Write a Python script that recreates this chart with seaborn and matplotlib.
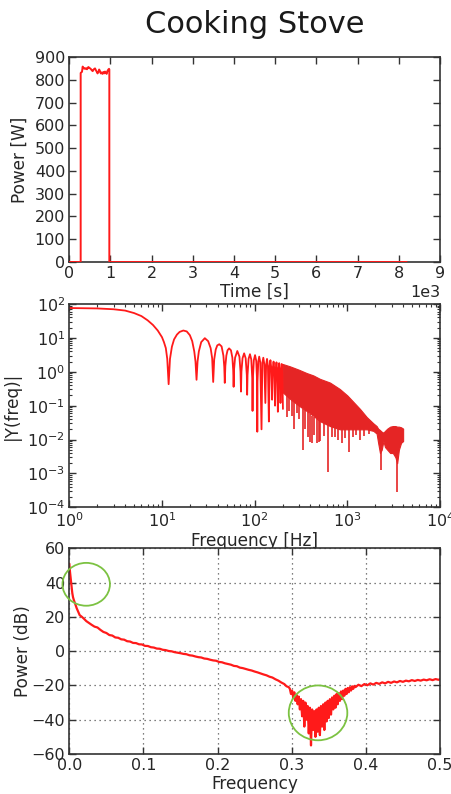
import numpy as np
import pandas as pd
import matplotlib
matplotlib.use("Agg")
import matplotlib.pyplot as plt
import seaborn as sns
from matplotlib.patches import Ellipse
from matplotlib.ticker import LogLocator, NullFormatter, MultipleLocator

# ---------------- data ----------------
# Panel 1: power vs time
time_s = [0, 276, 276, 308, 325, 340, 357, 380, 406, 430, 462, 490, 519, 545, 567, 595,
          624, 645, 664, 685, 705, 725, 745, 765, 786, 805, 826, 845, 867, 890, 907, 925,
          948, 965, 972, 972, 8190]
power_w = [0, 0, 830, 835, 858, 850, 852, 848, 851, 846, 856, 852, 848, 842, 838, 846,
           850, 842, 836, 828, 833, 845, 838, 828, 832, 826, 834, 828, 836, 830, 826, 838,
           845, 848, 845, 0, 0]

# Panel 2: spectrum magnitude, resolved lobes
freq_lobe = [1, 2, 3, 4, 5, 6, 7, 8, 9, 10, 10.5, 11, 11.4, 11.8, 12.2, 12.8, 13.5, 14.5, 15.5,
             17, 18.5, 20, 21.2, 22.3, 23, 23.6, 24.2, 25, 26.5, 29, 31.5, 33.5, 34.8, 35.7,
             36.6, 38, 39.5, 41.5, 44, 46, 47, 47.6, 48.3, 49.5, 51, 53, 55.5, 57.5, 58.7, 59.3,
             60, 61.5, 65, 68.5, 70.4, 71.2, 72, 74, 77, 80, 82.3, 83, 83.8, 86, 89, 92, 94.3,
             94.9, 95.6, 98, 101, 104, 106.3, 106.8, 107.3, 109.5, 112, 115, 118.6, 121, 124,
             127, 130.5, 133, 136, 139, 142.4, 145, 148, 151, 154.3, 157, 160, 163, 166, 169,
             172, 175, 178, 181, 184, 187, 190, 193, 196, 199, 202]
mag_lobe = [76, 74, 70, 64, 54, 44, 33, 24, 16.5, 10.5, 7.5, 5, 2.4, 0.43, 2.4, 5.5, 9, 12.5, 15,
            16.5, 15.5, 12, 8, 4, 2, 0.58, 2, 4, 7.5, 9.8, 8, 5, 2.5, 0.5,
            2.3, 4.5, 6, 6.5, 5.6, 3, 1.4, 0.47, 1.5, 3, 4.3, 4.9, 4.3, 2.6, 1.1, 0.36,
            1.2, 2.6, 4.1, 2.8, 1.0, 0.26, 1.0, 2.5, 3.5, 2.5, 0.8, 0.21, 0.8, 2.4, 3.3, 2.3, 0.6,
            0.07, 0.6, 2.2, 3.1, 2.1, 0.5, 0.017, 0.5, 2.0, 2.8, 1.9, 0.02, 1.8, 2.6,
            1.7, 0.12, 1.6, 2.4, 1.5, 0.034, 1.4, 2.2, 1.3, 0.15, 1.3, 2.0, 1.2, 0.1, 1.2,
            1.9, 1.1, 0.066, 1.1, 1.8, 1.0, 0.12, 1.0, 1.7, 0.9, 0.08]

# Panel 2: dense high-frequency band (upper / lower edge)
band_freq = [200, 240, 300, 363, 430, 505, 650, 830, 1000, 1080, 1370, 1620, 1910, 2070, 2150,
             2250, 2350, 2450, 2550, 2700, 2900, 3100, 3300, 3450, 3600, 3800, 4000]
band_top = [1.7, 1.45, 1.15, 0.92, 0.78, 0.62, 0.48, 0.31, 0.2, 0.16, 0.08, 0.046, 0.03, 0.025,
            0.021, 0.019, 0.017, 0.016, 0.018, 0.021, 0.024, 0.025, 0.025, 0.024, 0.024, 0.023, 0.021]
band_bottom = [0.25, 0.16, 0.1, 0.07, 0.05, 0.035, 0.025, 0.02, 0.02, 0.02, 0.02, 0.02, 0.018,
               0.015, 0.008, 0.004, 0.005, 0.009, 0.006, 0.005, 0.004, 0.004, 0.003, 0.002,
               0.005, 0.008, 0.009]

# Panel 2: deep notches inside the band
notch_freq = [221, 233, 252, 263, 285, 300, 336, 350, 372, 396, 414, 440, 465, 490, 510, 560,
              620, 680, 740, 800, 870, 950, 1050, 1150, 1250, 1380, 1500, 1700, 2300, 3450]
notch_low = [0.045, 0.07, 0.05, 0.021, 0.06, 0.04, 0.0049, 0.02, 0.012, 0.0086, 0.0078, 0.014,
             0.0078, 0.0086, 0.009, 0.013, 0.0011, 0.012, 0.012, 0.01, 0.0078, 0.011, 0.0044,
             0.012, 0.014, 0.01, 0.013, 0.015, 0.0013, 0.00029]
notch_high = [0.2, 0.18, 0.15, 0.13, 0.11, 0.1, 0.08, 0.075, 0.065, 0.055, 0.05, 0.045, 0.04,
              0.037, 0.035, 0.03, 0.027, 0.025, 0.023, 0.021, 0.02, 0.02, 0.02, 0.02, 0.02, 0.02,
              0.02, 0.02, 0.005, 0.003]

# Panel 3: power spectral density in dB
freq_norm = [0.000, 0.001, 0.002, 0.003, 0.004, 0.005, 0.006, 0.008, 0.010, 0.012, 0.014, 0.017,
             0.020, 0.023, 0.026, 0.030, 0.034, 0.038, 0.042, 0.046, 0.050, 0.054, 0.058, 0.062,
             0.066, 0.070, 0.074, 0.078, 0.082, 0.086, 0.090, 0.094, 0.098, 0.102, 0.106, 0.110,
             0.114, 0.118, 0.122, 0.126, 0.130, 0.134, 0.138, 0.142, 0.146, 0.150, 0.154, 0.158,
             0.162, 0.166, 0.170, 0.174, 0.178, 0.182, 0.186, 0.190, 0.194, 0.198, 0.202, 0.206,
             0.210, 0.214, 0.218, 0.222, 0.226, 0.230, 0.234, 0.238, 0.242, 0.246, 0.250, 0.254,
             0.258, 0.262, 0.266, 0.270, 0.274, 0.278, 0.282, 0.286, 0.290, 0.293, 0.296,
             0.2975, 0.299, 0.3005, 0.302, 0.3035, 0.305, 0.3065, 0.308, 0.3095, 0.311, 0.3125,
             0.314, 0.3155, 0.317, 0.3185, 0.320, 0.3215, 0.323, 0.3245, 0.326, 0.3275, 0.329,
             0.3305, 0.332, 0.3335, 0.335, 0.3365, 0.338, 0.3395, 0.341, 0.3425, 0.344, 0.3455,
             0.347, 0.3485, 0.350, 0.3515, 0.353, 0.3545, 0.356, 0.3575, 0.359, 0.3605, 0.362,
             0.3635, 0.365, 0.3665, 0.368, 0.3695, 0.371, 0.3725, 0.374, 0.3755, 0.377, 0.3785,
             0.380, 0.3815, 0.383, 0.3845, 0.386, 0.390, 0.394, 0.398, 0.402, 0.406, 0.410,
             0.414, 0.418, 0.422, 0.426, 0.430, 0.434, 0.438, 0.442, 0.446, 0.450, 0.454, 0.458,
             0.462, 0.466, 0.470, 0.474, 0.478, 0.482, 0.486, 0.490, 0.494, 0.498, 0.500]
power_db = [51, 46, 42, 37.5, 34, 31.5, 30, 27.5, 25, 23, 21, 20,
            18.8, 17.5, 16.6, 15.4, 14.3, 13.8, 12.4, 11.2, 10.6, 9.4, 9.1, 8.0,
            7.8, 6.9, 6.7, 5.8, 5.6, 4.8, 4.7, 4.0, 3.9, 3.1, 3.0, 2.3,
            2.1, 1.5, 1.4, 0.8, 0.6, 0.1, -0.1, -0.6, -0.9, -1.2, -1.6, -1.8,
            -2.4, -2.6, -3.1, -3.5, -3.7, -4.3, -4.5, -5.0, -5.4, -5.6, -6.3, -6.5,
            -7.1, -7.5, -7.9, -8.6, -8.8, -9.6, -9.9, -10.4, -10.9, -11.3, -11.9, -12.4,
            -13.0, -13.6, -14.1, -14.9, -15.4, -16.4, -17.2, -18.3, -19.2, -20.5, -21.0,
            -22, -25, -23, -27, -24, -29, -25.5, -31, -26.5, -34, -28,
            -38, -29, -44, -30, -40, -32, -48, -33, -55, -34, -46,
            -35, -50, -34, -47, -33, -49, -32, -44, -31, -46, -30,
            -41, -29, -39, -28, -37, -27, -34, -26, -33, -25, -31,
            -24.5, -29, -23.5, -28, -23, -26, -22, -25, -21.5, -24, -21,
            -23, -20.5, -22, -20.3, -21, -19.6, -20.4, -19.2, -19.9, -18.8, -19.5,
            -18.5, -19.1, -18.2, -18.8, -17.9, -18.5, -17.7, -18.2, -17.4, -17.9, -17.2, -17.6,
            -16.9, -17.4, -16.8, -17.2, -16.6, -17.0, -16.4, -16.9, -16.3, -16.7, -16.4]

# Panel 3: highlighted regions (center x, center y, width, height)
circle_x = [0.0228, 0.3355]
circle_y = [39, -36]
circle_w = [0.064, 0.079]
circle_h = [25, 32]

# ---------------- style ----------------
sns.set_style("ticks", {"xtick.direction": "in", "ytick.direction": "in",
                        "axes.edgecolor": "#333333"})
plt.rcParams["font.family"] = ["DejaVu Sans"]
plt.rcParams["axes.linewidth"] = 1.2

TEXT = "#262626"
TICK_FS = 11.5
LABEL_FS = 12.2
RED = "#ff1a1a"

fig = plt.figure(figsize=(4.52, 7.94), dpi=100)
W, H = 452.0, 794.0
left, width = 69.3 / W, 370.7 / W
ax1 = fig.add_axes([left, 1 - 262 / H, width, 205 / H])
ax2 = fig.add_axes([left, 1 - 507.3 / H, width, 203.3 / H])
ax3 = fig.add_axes([left, 1 - 754 / H, width, 205.7 / H])


def style_axis(ax):
    ax.tick_params(which="both", direction="in", top=True, right=True,
                   labelsize=TICK_FS, colors="#333333", labelcolor=TEXT, pad=3)
    ax.tick_params(which="major", length=5, width=1)
    ax.tick_params(which="minor", length=2.5, width=0.8)
    for s in ax.spines.values():
        s.set_color("#333333")
        s.set_linewidth(1.2)
        s.set_visible(True)


# Panel 1
df1 = pd.DataFrame({"t": time_s, "p": power_w})
sns.lineplot(data=df1, x="t", y="p", ax=ax1, color=RED, lw=1.4,
             estimator=None, sort=False, zorder=3)
ax1.set_xlim(0, 9000)
ax1.set_ylim(0, 900)
ax1.xaxis.set_major_locator(MultipleLocator(1000))
ax1.yaxis.set_major_locator(MultipleLocator(100))
ax1.ticklabel_format(style="sci", axis="x", scilimits=(3, 3))
ax1.xaxis.get_offset_text().set_fontsize(TICK_FS)
ax1.xaxis.get_offset_text().set_color(TEXT)
ax1.set_xlabel("Time [s]", fontsize=LABEL_FS, color=TEXT, labelpad=1)
ax1.set_ylabel("Power [W]", fontsize=LABEL_FS, color=TEXT, labelpad=4)
ax1.set_title("Cooking Stove", fontsize=22, color="#1a1a1a", pad=17)
style_axis(ax1)

# Panel 2
df2 = pd.DataFrame({"f": freq_lobe, "a": mag_lobe})
sns.lineplot(data=df2, x="f", y="a", ax=ax2, color=RED, lw=1.3,
             estimator=None, sort=False)
ax2.fill_between(band_freq, band_bottom, band_top, color="#e52525", lw=0.8,
                 edgecolor="#e52525")
ax2.vlines(notch_freq, notch_low, notch_high, color="#e52525", lw=1.2)
ax2.set_xscale("log")
ax2.set_yscale("log")
ax2.set_xlim(1, 1e4)
ax2.set_ylim(1e-4, 1e2)
ax2.xaxis.set_major_locator(LogLocator(base=10, numticks=10))
ax2.yaxis.set_major_locator(LogLocator(base=10, numticks=10))
ax2.xaxis.set_minor_locator(LogLocator(base=10, subs=np.arange(2, 10), numticks=20))
ax2.yaxis.set_minor_locator(LogLocator(base=10, subs=np.arange(2, 10), numticks=20))
ax2.xaxis.set_minor_formatter(NullFormatter())
ax2.yaxis.set_minor_formatter(NullFormatter())
ax2.set_xlabel("Frequency [Hz]", fontsize=LABEL_FS, color=TEXT, labelpad=1)
ax2.set_ylabel("|Y(freq)|", fontsize=LABEL_FS, color=TEXT, labelpad=4)
style_axis(ax2)

# Panel 3
df3 = pd.DataFrame({"f": freq_norm, "db": power_db})
sns.lineplot(data=df3, x="f", y="db", ax=ax3, color=RED, lw=1.6,
             estimator=None, sort=False)
ax3.set_xlim(0, 0.5)
ax3.set_ylim(-60, 60)
ax3.xaxis.set_major_locator(MultipleLocator(0.1))
ax3.yaxis.set_major_locator(MultipleLocator(20))
ax3.grid(True, linestyle=(0, (1, 3)), color="#555555", lw=0.9)
ax3.set_axisbelow(True)
for cx, cy, cw, ch in zip(circle_x, circle_y, circle_w, circle_h):
    ax3.add_patch(Ellipse((cx, cy), cw, ch, fill=False, edgecolor="#7cc242",
                          lw=1.3, zorder=5, clip_on=False))
ax3.set_xlabel("Frequency", fontsize=LABEL_FS, color=TEXT, labelpad=1)
ax3.set_ylabel("Power (dB)", fontsize=LABEL_FS, color=TEXT, labelpad=0)
style_axis(ax3)

fig.savefig("out.png", dpi=100)
